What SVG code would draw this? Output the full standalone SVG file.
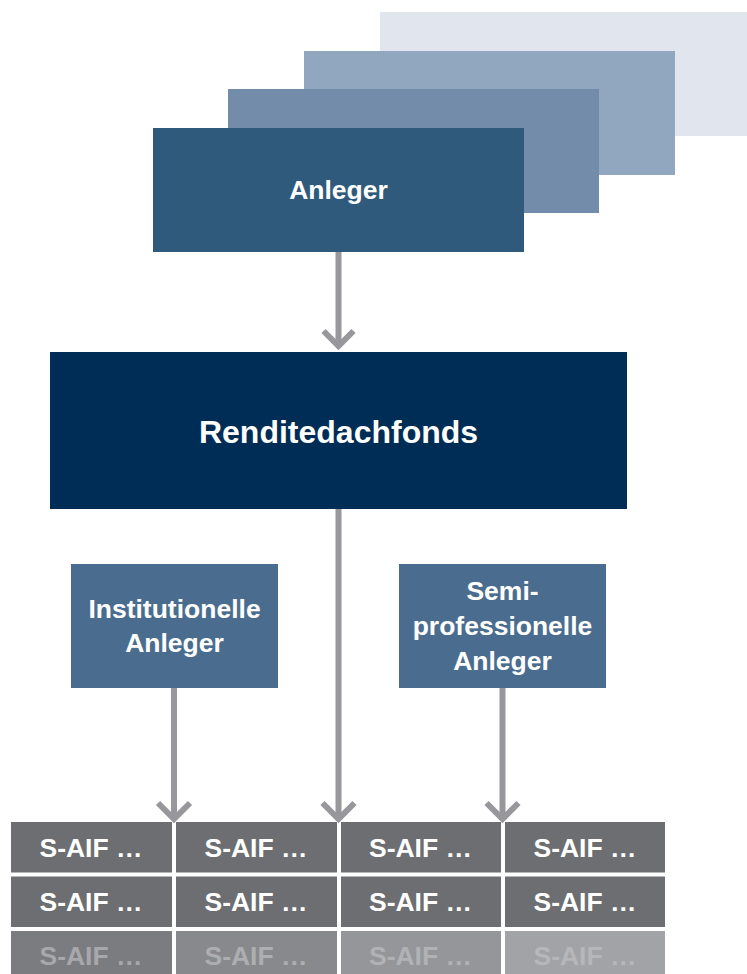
<svg xmlns="http://www.w3.org/2000/svg" width="747" height="974" viewBox="0 0 747 974">
<defs>
<style>
text{font-family:"Liberation Sans",Arial,sans-serif;font-weight:bold;text-anchor:middle;fill:#ffffff}
.t{font-size:26.5px}
.big{font-size:32px}
.conn{fill:none;stroke:#98989c;stroke-width:6}
.cell{fill:#6d6e72}
</style>
</defs>
<rect width="747" height="974" fill="#ffffff"/>
<g id="anleger-stack">
<rect x="380" y="12" width="371" height="124" fill="#e1e6ee"/>
<rect x="304" y="51" width="371" height="124" fill="#91a6bf"/>
<rect x="228" y="89" width="371" height="124" fill="#738ca9"/>
</g>
<g id="anleger">
<rect x="153" y="128" width="371" height="124" fill="#305a7b"/>
<text class="t" x="338.5" y="199">Anleger</text>
</g>
<g id="renditedachfonds">
<rect x="50" y="352" width="577" height="157" fill="#002d55"/>
<text class="big" x="338.5" y="443">Renditedachfonds</text>
</g>
<g id="institutionelle">
<rect x="71" y="564" width="207" height="124" fill="#4a6d8f"/>
<text class="t" x="174.5" y="618">Institutionelle</text>
<text class="t" x="174.5" y="652">Anleger</text>
</g>
<g id="semiprofessionelle">
<rect x="399" y="564" width="207" height="124" fill="#4a6d8f"/>
<text class="t" x="502.5" y="600">Semi-</text>
<text class="t" x="502.5" y="635">professionelle</text>
<text class="t" x="502.5" y="670">Anleger</text>
</g>
<g id="connectors">
<path class="conn" d="M338.5,252 V346"/>
<path class="conn" d="M323.5,331 L338.5,346 L353.5,331"/>
<path class="conn" d="M338.5,509 V819"/>
<path class="conn" d="M322.5,803 L338.5,819 L354.5,803"/>
<path class="conn" d="M174,688 V819"/>
<path class="conn" d="M158,803 L174,819 L190,803"/>
<path class="conn" d="M502.5,688 V819"/>
<path class="conn" d="M486.5,803 L502.5,819 L518.5,803"/>
</g>
<g id="s-aif-grid">
<rect class="cell" x="11" y="822" width="161" height="50.5"/>
<rect class="cell" x="176" y="822" width="161" height="50.5"/>
<rect class="cell" x="341" y="822" width="160" height="50.5"/>
<rect class="cell" x="505" y="822" width="160" height="50.5"/>
<text class="t" x="91" y="857">S-AIF …</text>
<text class="t" x="256" y="857">S-AIF …</text>
<text class="t" x="420.5" y="857">S-AIF …</text>
<text class="t" x="585" y="857">S-AIF …</text>
<rect class="cell" x="11" y="876.5" width="161" height="50.5"/>
<rect class="cell" x="176" y="876.5" width="161" height="50.5"/>
<rect class="cell" x="341" y="876.5" width="160" height="50.5"/>
<rect class="cell" x="505" y="876.5" width="160" height="50.5"/>
<text class="t" x="91" y="911">S-AIF …</text>
<text class="t" x="256" y="911">S-AIF …</text>
<text class="t" x="420.5" y="911">S-AIF …</text>
<text class="t" x="585" y="911">S-AIF …</text>
<rect x="11" y="931" width="161" height="50" fill="#7b7c80"/>
<rect x="176" y="931" width="161" height="50" fill="#88898c"/>
<rect x="341" y="931" width="160" height="50" fill="#959699"/>
<rect x="505" y="931" width="160" height="50" fill="#a2a3a6"/>
<text class="t" x="91" y="965" style="fill:#a7a8ab">S-AIF …</text>
<text class="t" x="256" y="965" style="fill:#adaeb1">S-AIF …</text>
<text class="t" x="420.5" y="965" style="fill:#b1b2b5">S-AIF …</text>
<text class="t" x="585" y="965" style="fill:#b6b7ba">S-AIF …</text>
</g>
</svg>
